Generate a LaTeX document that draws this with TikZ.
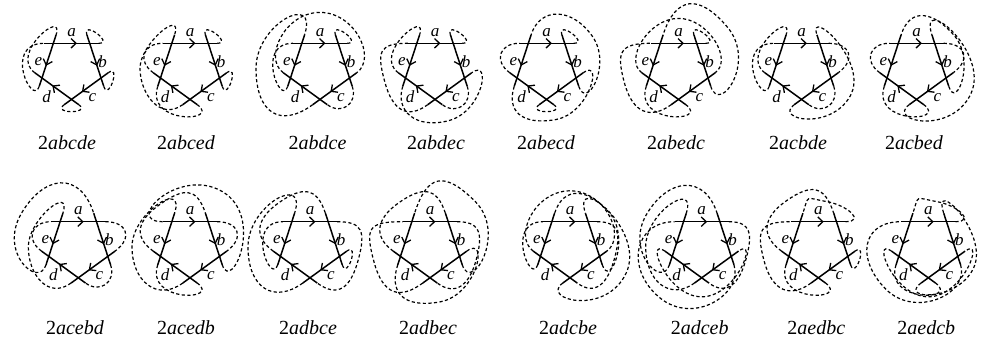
\documentclass[tikz,border=0pt]{standalone}
\usepackage{fontspec}
\setmainfont{Liberation Serif}
\usetikzlibrary{decorations.markings,arrows.meta}
\tikzset{
 seg/.style={line width=1.5pt,postaction={decorate},decoration={markings,mark=at position 0.6 with {\arrow{Straight Barb[length=5pt,width=9.5pt,line width=1.3pt]}}}},
 lp/.style={line width=1.2pt,dash pattern=on 3.2pt off 2.4pt},
 lbl/.style={font=\fontsize{17}{18}\selectfont\itshape,inner sep=0pt},
 captxt/.style={font=\fontsize{20}{22}\selectfont,inner sep=0pt},
}
\def\angxTa{180}\def\angxHa{0}\def\angxTb{108}\def\angxHb{-72}\def\angxTc{36}\def\angxHc{216}\def\angxTd{-36}\def\angxHd{144}\def\angxTe{72}\def\angxHe{252}
\newcommand\pentbody{%
 \coordinate (Ta) at (-27.2,25.1); \coordinate (Ha) at (27.2,25.1);
 \coordinate (Tb) at (15.4,33.6);  \coordinate (Hb) at (32.3,-18.1);
 \coordinate (Tc) at (36.8,-4.3);  \coordinate (Hc) at (-7.3,-36.3);
 \coordinate (Td) at (7.3,-36.3);  \coordinate (Hd) at (-36.8,-4.3);
 \coordinate (Te) at (-15.4,33.6); \coordinate (He) at (-32.3,-18.1);
 \draw[seg] (Ta) -- (Ha); \draw[seg] (Tb) -- (Hb); \draw[seg] (Tc) -- (Hc);
 \draw[seg] (Td) -- (Hd); \draw[seg] (Te) -- (He);
 \node[lbl] (la) at (0,36) {a}; \node[lbl] (lb) at (31,7) {b};
 \node[lbl] (lc) at (21,-29) {c}; \node[lbl] (ld) at (-25,-28) {d};
 \node[lbl] (le) at (-33,7) {e};}
\newcommand\sh[4]{\edef\angS{\csname angx#1\endcsname}\edef\angE{\csname angx#2\endcsname}%
 \draw[lp] (#1) .. controls +(\angS:#3) and +(\angE:#4) .. (#2);}
\newcommand\wccw[7]{\edef\angS{\csname angx#1\endcsname}\edef\angE{\csname angx#2\endcsname}%
 \draw[lp] (#1) .. controls +(\angS:#5) and +(#3-90:#6) .. (#3:#4) .. controls +(#3+90:#6) and +(\angE:#7) .. (#2);}
\newcommand\wcw[7]{\edef\angS{\csname angx#1\endcsname}\edef\angE{\csname angx#2\endcsname}%
 \draw[lp] (#1) .. controls +(\angS:#5) and +(#3+90:#6) .. (#3:#4) .. controls +(#3-90:#6) and +(\angE:#7) .. (#2);}
\newcommand\fig[6]{\begin{scope}[shift={(#2)},name prefix=#1-]\pentbody #6\end{scope}
 \node[captxt] (#1-cap) at (#3,#4) {2\textit{#5}};}
\begin{document}
\begin{tikzpicture}[x=1pt,y=1pt]
\useasboundingbox (0,0) rectangle (982,340);
% row 1
\fig{f1}{71.5,271.6}{67}{197}{abcde}{\sh{Ha}{Tb}{16}{16}\sh{Hb}{Tc}{16}{16}\sh{Hc}{Td}{16}{16}\sh{Hd}{Te}{32}{28}\sh{He}{Ta}{22}{42}}
\fig{f2}{190,271.6}{186}{197}{abced}{\sh{Ha}{Tb}{16}{16}\sh{Hb}{Tc}{16}{16}\wcw{Hc}{Te}{180}{50}{28}{25}{28}\sh{He}{Td}{40}{30}\sh{Hd}{Ta}{20}{20}}
\fig{f3}{320,271.6}{317.5}{197}{abdce}{\sh{Ha}{Tb}{16}{16}\sh{Hb}{Td}{18}{18}\wcw{Hd}{Tc}{90}{56}{25}{35}{25}\wcw{Hc}{Te}{180}{64}{40}{45}{45}\sh{He}{Ta}{22}{38}}
\fig{f4}{435,271.6}{436}{197}{abdec}{\sh{Ha}{Tb}{16}{16}\sh{Hb}{Td}{18}{18}\sh{Hd}{Te}{32}{28}\wccw{He}{Tc}{285}{54}{25}{35}{25}\wcw{Hc}{Ta}{195}{52}{25}{30}{30}}
\fig{f5}{546.5,271.6}{546}{197}{abecd}{\sh{Ha}{Tb}{16}{16}\wccw{Hb}{Te}{35}{56}{25}{35}{30}\wccw{He}{Tc}{280}{52}{25}{35}{25}\sh{Hc}{Td}{16}{16}\sh{Hd}{Ta}{20}{20}}
\fig{f6}{678.5,271.6}{676}{197}{abedc}{\sh{Ha}{Tb}{16}{16}\wccw{Hb}{Te}{40}{64}{30}{45}{40}\sh{He}{Td}{40}{30}\wcw{Hd}{Tc}{90}{50}{22}{30}{22}\wcw{Hc}{Ta}{195}{56}{25}{32}{32}}
\fig{f7}{801.5,271.6}{798}{197}{acbde}{\sh{Ha}{Tc}{22}{22}\wccw{Hc}{Tb}{330}{56}{25}{40}{30}\sh{Hb}{Td}{18}{18}\sh{Hd}{Te}{32}{28}\sh{He}{Ta}{22}{42}}
\fig{f8}{916.5,271.6}{914}{197}{acbed}{\sh{Ha}{Tc}{22}{22}\wccw{Hc}{Tb}{335}{60}{28}{46}{45}\wccw{Hb}{Te}{40}{50}{25}{32}{30}\sh{He}{Td}{40}{30}\sh{Hd}{Ta}{20}{20}}
% row 2
\fig{f9}{78.3,93.2}{75}{12}{acebd}{\sh{Ha}{Tc}{22}{22}\wcw{Hc}{Te}{180}{50}{28}{28}{30}\wcw{He}{Tb}{150}{66}{25}{45}{45}\sh{Hb}{Td}{18}{18}\sh{Hd}{Ta}{20}{20}}
\fig{f10}{190,93.2}{186}{12}{acedb}{\sh{Ha}{Tc}{22}{22}\wcw{Hc}{Te}{180}{58}{32}{34}{36}\sh{He}{Td}{40}{30}\wcw{Hd}{Tb}{125}{52}{25}{28}{28}\wccw{Hb}{Ta}{60}{64}{30}{50}{40}}
\fig{f11}{310,93.2}{308}{12}{adbce}{\wcw{Ha}{Td}{345}{50}{25}{30}{25}\wcw{Hd}{Tb}{125}{54}{25}{28}{28}\sh{Hb}{Tc}{16}{16}\wcw{Hc}{Te}{180}{62}{35}{42}{42}\sh{He}{Ta}{22}{38}}
\fig{f12}{430,93.2}{428}{12}{adbec}{\wcw{Ha}{Td}{345}{48}{22}{28}{22}\wcw{Hd}{Tb}{125}{54}{25}{28}{28}\wccw{Hb}{Te}{45}{64}{30}{45}{40}\wccw{He}{Tc}{280}{56}{28}{38}{28}\wcw{Hc}{Ta}{195}{58}{28}{35}{35}}
\fig{f13}{570,93.2}{568}{12}{adcbe}{\wcw{Ha}{Td}{345}{46}{22}{26}{22}\wcw{Hd}{Tc}{90}{56}{25}{35}{25}\wccw{Hc}{Tb}{335}{62}{28}{48}{45}\wccw{Hb}{Te}{40}{52}{25}{32}{30}\sh{He}{Ta}{22}{38}}
\fig{f14}{701.7,93.2}{699.7}{12}{adceb}{\wcw{Ha}{Td}{345}{46}{22}{26}{22}\wccw{Hd}{Tc}{270}{50}{25}{35}{25}\wcw{Hc}{Te}{180}{56}{30}{35}{35}\wcw{He}{Tb}{150}{64}{25}{42}{42}\wcw{Hb}{Ta}{230}{66}{30}{45}{40}}
\fig{f15}{818.3,93.2}{816.3}{12}{aedbc}{\wccw{Ha}{Te}{80}{46}{20}{22}{20}\sh{He}{Td}{40}{30}\wcw{Hd}{Tb}{125}{56}{25}{30}{30}\sh{Hb}{Tc}{16}{16}\wcw{Hc}{Ta}{195}{56}{25}{32}{32}}
\fig{f16}{928.3,93.2}{926.3}{12}{aedcb}{\wccw{Ha}{Te}{80}{46}{20}{22}{20}\sh{He}{Td}{40}{30}\wccw{Hd}{Tc}{270}{50}{25}{35}{25}\wccw{Hc}{Tb}{335}{50}{28}{38}{40}\wcw{Hb}{Ta}{225}{60}{30}{42}{40}}
\end{tikzpicture}
\end{document}
